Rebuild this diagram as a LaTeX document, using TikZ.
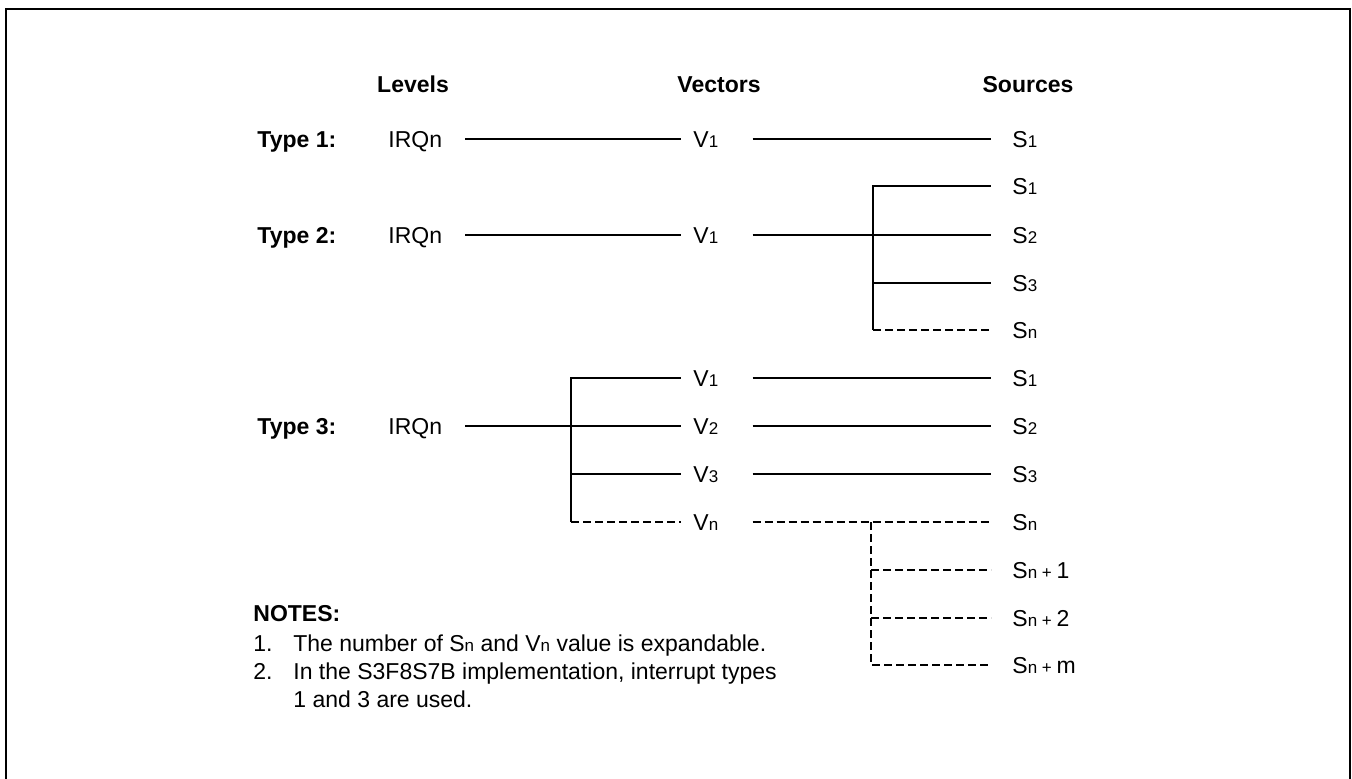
\documentclass[tikz,border=0pt]{standalone}
\usepackage{fontspec}
\setmainfont{Liberation Sans}

\newcommand*{\low}[1]{{\fontsize{8.5}{10}\selectfont #1}}
\newcommand*{\colT}{257}
\newcommand*{\colL}{388}
\newcommand*{\colV}{693}
\newcommand*{\colS}{1012}

\begin{document}
\begin{tikzpicture}
[
	x=0.5pt,
	y=-0.5pt,
	every node/.style={font=\fontsize{11.5}{13}\selectfont, inner sep=0pt, text height=8.2pt, text depth=0pt, anchor=west},
	head/.style={font=\fontsize{11.5}{13}\selectfont\bfseries, anchor=center},
	type/.style={font=\fontsize{11.5}{13}\selectfont\bfseries},
	wire/.style={line width=1pt},
	dashwire/.style={wire, dash pattern=on 4pt off 2pt},
	fromlev/.style={shorten <=11.5pt},
	tovec/.style={shorten >=6pt},
	fromvec/.style={shorten <=17pt},
	tosrc/.style={shorten >=10.5pt}
]

	\useasboundingbox (0,0) rectangle (1352,779);

	% frame
	\draw[line width=1.3pt] (6,785) -- (6,9) -- (1350,9) -- (1350,785);

	% headers
	\node[head] (hlev) at (413,84) {Levels};
	\node[head] (hvec) at (719,84) {Vectors};
	\node[head] (hsrc) at (1028,84) {Sources};

	% type 1
	\node[type] (type1) at (\colT,139) {Type 1:};
	\node (irq1) at (\colL,139) {IRQn};
	\node (v11) at (\colV,139) {V\low{1}};
	\node (s11) at (\colS,139) {S\low{1}};

	\draw[wire, fromlev, tovec] (irq1) -- (v11);
	\draw[wire, fromvec, tosrc] (v11) -- (s11);

	% type 2
	\node[type] (type2) at (\colT,235) {Type 2:};
	\node (irq2) at (\colL,235) {IRQn};
	\node (v21) at (\colV,235) {V\low{1}};
	\node (s21) at (\colS,186) {S\low{1}};
	\node (s22) at (\colS,235) {S\low{2}};
	\node (s23) at (\colS,283) {S\low{3}};
	\node (s2n) at (\colS,330) {S\low{n}};
	\coordinate (bar2) at (873,235);

	\draw[wire, fromlev, tovec] (irq2) -- (v21);
	\draw[wire, fromvec, tosrc] (v21) -- (s22);
	\draw[wire, tosrc] (s2n -| bar2) -- (s21 -| bar2) -- (s21);
	\draw[wire, tosrc] (s23 -| bar2) -- (s23);
	\draw[dashwire, tosrc] (s2n -| bar2) -- (s2n);

	% type 3
	\node[type] (type3) at (\colT,426) {Type 3:};
	\node (irq3) at (\colL,426) {IRQn};
	\node (v31) at (\colV,378) {V\low{1}};
	\node (v32) at (\colV,426) {V\low{2}};
	\node (v33) at (\colV,474) {V\low{3}};
	\node (v3n) at (\colV,522) {V\low{n}};
	\node (s31) at (\colS,378) {S\low{1}};
	\node (s32) at (\colS,426) {S\low{2}};
	\node (s33) at (\colS,474) {S\low{3}};
	\node (s3n) at (\colS,522) {S\low{n}};
	\node (s3n1) at (\colS,570) {S\low{n + }1};
	\node (s3n2) at (\colS,618) {S\low{n + }2};
	\node (s3nm) at (\colS,665) {S\low{n + }m};
	\coordinate (bar3) at (571,426);
	\coordinate (bar4) at (871,522);

	\draw[wire, fromlev, tovec] (irq3) -- (v32);
	\draw[wire, tovec] (v3n -| bar3) -- (v31 -| bar3) -- (v31);
	\draw[wire, tovec] (v33 -| bar3) -- (v33);
	\draw[dashwire, tovec] (v3n -| bar3) -- (v3n);

	\draw[wire, fromvec, tosrc] (v31) -- (s31);
	\draw[wire, fromvec, tosrc] (v32) -- (s32);
	\draw[wire, fromvec, tosrc] (v33) -- (s33);
	\draw[dashwire, fromvec, tosrc] (v3n) -- (s3n);

	\draw[dashwire, tosrc] (bar4) -- (s3nm -| bar4) -- (s3nm);
	\draw[dashwire, tosrc] (s3n1 -| bar4) -- (s3n1);
	\draw[dashwire, tosrc] (s3n2 -| bar4) -- (s3n2);

	% notes
	\node[type] (notes) at (253,613) {NOTES:};
	\node (note1) at (253,643) {1.};
	\node (note1t) at (293,643) {The number of S\low{n} and V\low{n} value is expandable.};
	\node (note2) at (253,671) {2.};
	\node (note2t) at (293,671) {In the S3F8S7B implementation, interrupt types};
	\node (note2u) at (293,699) {1 and 3 are used.};

\end{tikzpicture}
\end{document}
